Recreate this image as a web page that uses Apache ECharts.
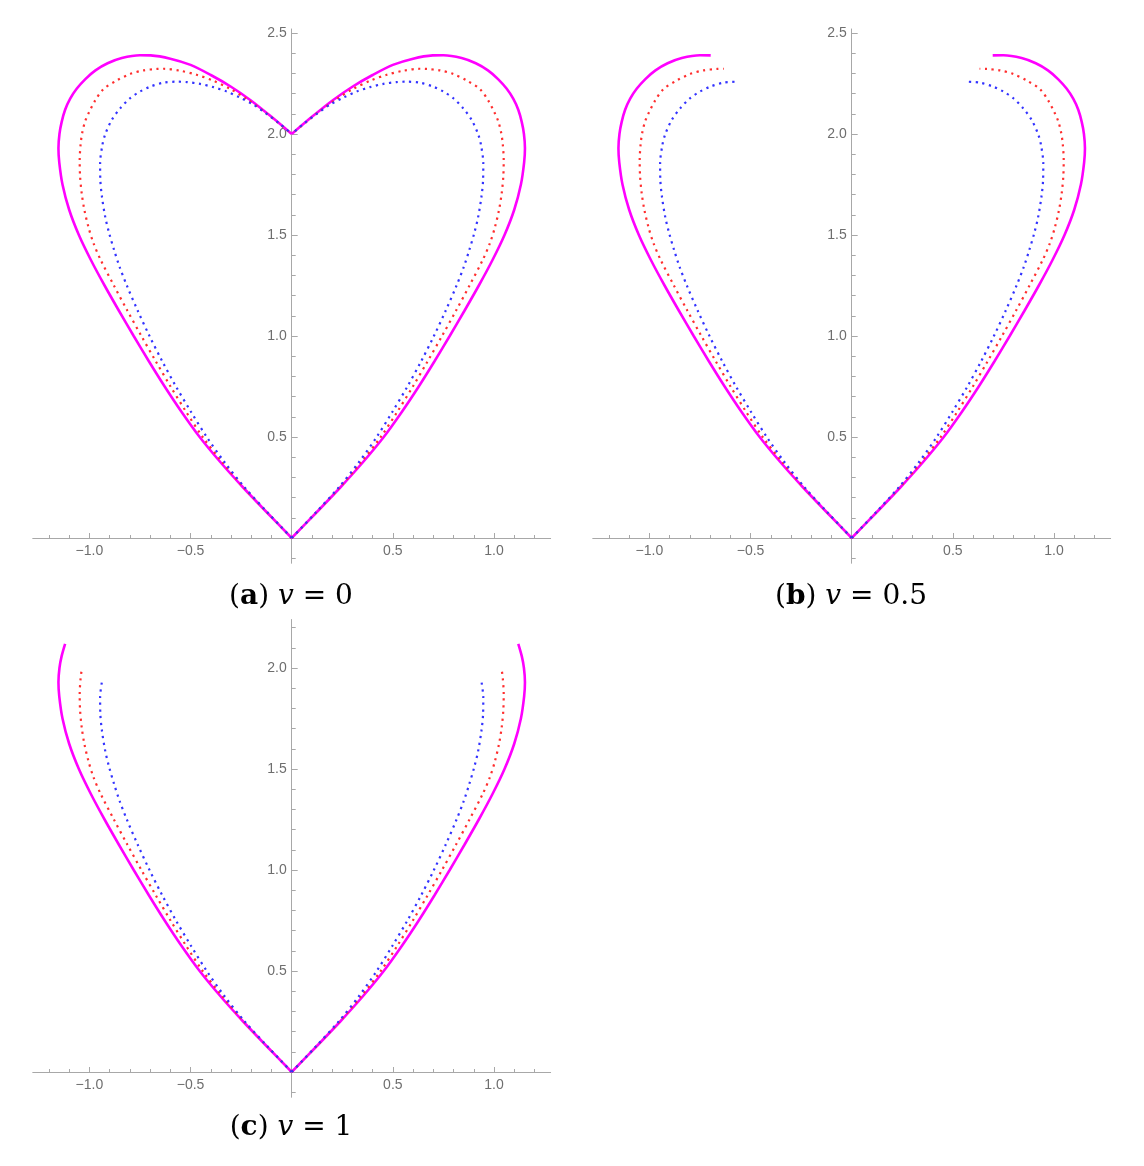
<!DOCTYPE html>
<html>
<head>
<meta charset="utf-8">
<script src="https://cdn.jsdelivr.net/npm/echarts@6/dist/echarts.min.js"></script>
<style>
html,body{margin:0;padding:0;background:#fff;}
#c{width:1144px;height:1166px;}
</style>
</head>
<body>
<div id="c"></div>
<script>
// ---- data: right halves of the three curves, from the origin up to the cusp (x, y) ----
const magentaRight = [
  [0,0],[0.121,0.125],[0.24,0.25],[0.352,0.375],[0.455,0.5],[0.545,0.625],[0.628,0.75],
  [0.706,0.875],[0.781,1.0],[0.854,1.125],[0.925,1.25],[0.992,1.375],[1.052,1.5],[1.1,1.625],
  [1.133,1.75],[1.149,1.86],[1.153,1.93],[1.148,2.0],[1.137,2.06],[1.12,2.12],[1.095,2.175],
  [1.062,2.225],[1.02,2.272],[0.97,2.315],[0.91,2.35],[0.84,2.376],[0.75,2.39],[0.697,2.389],
  [0.6,2.373],[0.5,2.342],[0.4,2.292],[0.3,2.234],[0.2,2.165],[0.1,2.085],[0,2.0]
];
const redRight = [
  [0,0],[0.12,0.125],[0.237,0.25],[0.343,0.375],[0.44,0.5],[0.522,0.625],[0.599,0.75],
  [0.672,0.875],[0.743,1.0],[0.812,1.125],[0.879,1.25],[0.944,1.376],[0.98,1.46],[1.005,1.54],
  [1.025,1.625],[1.038,1.706],[1.046,1.79],[1.048,1.87],[1.043,1.954],[1.036,2.003],[1.022,2.06],
  [1.003,2.105],[0.972,2.165],[0.931,2.222],[0.865,2.265],[0.799,2.297],[0.733,2.315],[0.667,2.322],
  [0.632,2.323],[0.55,2.313],[0.47,2.293],[0.39,2.265],[0.305,2.224],[0.222,2.173],[0.14,2.114],
  [0.07,2.058],[0,2.0]
];
const blueRight = [
  [0,0],[0.118,0.125],[0.232,0.25],[0.332,0.375],[0.42,0.5],[0.498,0.625],[0.572,0.75],
  [0.64,0.875],[0.703,1.0],[0.761,1.125],[0.815,1.25],[0.851,1.343],[0.878,1.426],[0.902,1.508],
  [0.922,1.591],[0.938,1.69],[0.946,1.772],[0.947,1.855],[0.937,1.939],[0.923,1.995],[0.89,2.069],
  [0.848,2.127],[0.799,2.177],[0.75,2.21],[0.7,2.234],[0.634,2.254],[0.566,2.259],[0.519,2.257],
  [0.453,2.248],[0.387,2.232],[0.321,2.21],[0.255,2.18],[0.189,2.145],[0.124,2.1],[0.058,2.05],[0,2.0]
];
// points kept (from the origin) in each panel: [magenta, red, blue]
const keepA = [magentaRight.length, redRight.length, blueRight.length];
const keepB = [28, 29, 27];
const keepC = [20, 20, 19];

// ---- ticks ----
const xTickLabels = [-1.0, -0.5, 0.5, 1.0];
const xMinorTicks = [-1.2,-1.1,-0.9,-0.8,-0.7,-0.6,-0.4,-0.3,-0.2,-0.1,0.1,0.2,0.3,0.4,0.6,0.7,0.8,0.9,1.1,1.2];
const yTickLabelsAB = [0.5, 1.0, 1.5, 2.0, 2.5];
const yTickLabelsC = [0.5, 1.0, 1.5, 2.0];
const yMinorTicksAB = [-0.1,0.1,0.2,0.3,0.4,0.6,0.7,0.8,0.9,1.1,1.2,1.3,1.4,1.6,1.7,1.8,1.9,2.1,2.2,2.3,2.4];
const yMinorTicksC = [-0.1,0.1,0.2,0.3,0.4,0.6,0.7,0.8,0.9,1.1,1.2,1.3,1.4,1.6,1.7,1.8,1.9,2.1,2.2];

// ---- captions ----
const captionLetters = ['a', 'b', 'c'];
const captionValues = ['0', '0.5', '1'];

// ---- layout ----
const PX = 202.3, PY = 202;
const X_MIN = -1.28, X_MAX = 1.28, Y_MIN = -0.125;
const panels = [
  {ox: 291.7, oy: 538,  yMax: 2.52, keep: keepA, yLab: yTickLabelsAB, yMin: yMinorTicksAB, cx: 291, cy: 597},
  {ox: 851.7, oy: 538,  yMax: 2.52, keep: keepB, yLab: yTickLabelsAB, yMin: yMinorTicksAB, cx: 851, cy: 597},
  {ox: 291.7, oy: 1072, yMax: 2.24, keep: keepC, yLab: yTickLabelsC,  yMin: yMinorTicksC,  cx: 291, cy: 1128}
];
const AX = '#a8a8a8';
const LAB = '#6e6e6e';
const fmt = v => { const s = Math.abs(v).toFixed(1); return v < 0 ? '\u2212' + s : s; };
// labels of an onZero axis stay at the grid edge; pull them back next to the axis line
const yLabelMargin = 5 - (-X_MIN * PX);
const xLabelMargin = 6 - (-Y_MIN * PY);

const grids = [], xAxes = [], yAxes = [], series = [], graphics = [];
const curves = [
  {data: magentaRight, style: {color: '#ff00ff', width: 2.6, type: 'solid'}},
  {data: redRight,     style: {color: '#ff2e2e', width: 2.2, type: [2.2, 4.5], cap: 'butt'}},
  {data: blueRight,    style: {color: '#3333ff', width: 2.2, type: [2.2, 4.5], cap: 'butt'}}
];

panels.forEach((p, i) => {
  grids.push({
    left: p.ox + X_MIN * PX, width: (X_MAX - X_MIN) * PX,
    top: p.oy - p.yMax * PY, height: (p.yMax - Y_MIN) * PY,
    containLabel: false, outerBoundsMode: 'none', show: false
  });
  const baseX = {type: 'value', gridIndex: i, min: X_MIN, max: X_MAX, position: 'bottom', splitLine: {show: false}};
  xAxes.push(Object.assign({}, baseX, {
    axisLine: {show: true, onZero: true, lineStyle: {color: AX, width: 1}},
    axisTick: {show: true, inside: true, length: 5, customValues: xTickLabels, lineStyle: {color: AX, width: 1}},
    axisLabel: {show: true, customValues: xTickLabels, formatter: fmt, color: LAB, fontSize: 14,
                fontFamily: 'Liberation Sans', margin: xLabelMargin}
  }));
  xAxes.push(Object.assign({}, baseX, {
    axisLine: {show: false, onZero: true},
    axisTick: {show: true, inside: true, length: 3, customValues: xMinorTicks, lineStyle: {color: AX, width: 1}},
    axisLabel: {show: false}
  }));
  const baseY = {type: 'value', gridIndex: i, min: Y_MIN, max: p.yMax, position: 'left', splitLine: {show: false}};
  yAxes.push(Object.assign({}, baseY, {
    axisLine: {show: true, onZero: true, lineStyle: {color: AX, width: 1}},
    axisTick: {show: true, inside: true, length: 6, customValues: p.yLab, lineStyle: {color: AX, width: 1}},
    axisLabel: {show: true, customValues: p.yLab, formatter: fmt, color: LAB, fontSize: 14,
                fontFamily: 'Liberation Sans', margin: yLabelMargin}
  }));
  yAxes.push(Object.assign({}, baseY, {
    axisLine: {show: false, onZero: true},
    axisTick: {show: true, inside: true, length: 4, customValues: p.yMin, lineStyle: {color: AX, width: 1}},
    axisLabel: {show: false}
  }));
  curves.forEach((c, k) => {
    const right = c.data.slice(0, p.keep[k]);
    const left = right.map(pt => [-pt[0], pt[1]]);
    [left, right].forEach(d => {
      series.push({
        type: 'line', xAxisIndex: 2 * i, yAxisIndex: 2 * i, data: d,
        showSymbol: false, symbol: 'none', smooth: 0.3, clip: false, silent: true,
        lineStyle: c.style, z: 2 + k
      });
    });
  });
  graphics.push({
    type: 'text', x: p.cx, y: p.cy,
    style: {
      text: '{p|(}{b|' + captionLetters[i] + '}{p|)} {i|v} {p|=} {p|' + captionValues[i] + '}',
      align: 'center', verticalAlign: 'middle',
      font: '28px "DejaVu Serif"', fill: '#000',
      rich: {
        p: {fontFamily: 'DejaVu Serif', fontSize: 28, fill: '#000', color: '#000'},
        b: {fontFamily: 'DejaVu Serif', fontSize: 28, fontWeight: 'bold', fill: '#000', color: '#000'},
        i: {fontFamily: 'DejaVu Serif', fontSize: 28, fontStyle: 'italic', fill: '#000', color: '#000'}
      }
    }
  });
});

const chart = echarts.init(document.getElementById('c'), null, {renderer: 'canvas', width: 1144, height: 1166});
chart.setOption({
  animation: false,
  backgroundColor: '#ffffff',
  grid: grids,
  xAxis: xAxes,
  yAxis: yAxes,
  series: series,
  graphic: graphics
});
</script>
</body>
</html>
